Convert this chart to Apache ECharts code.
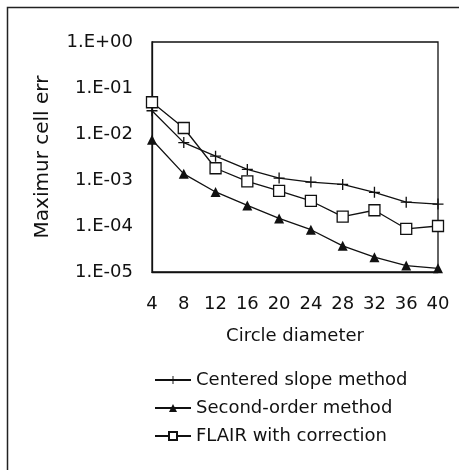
<!DOCTYPE html>
<html>
<head>
<meta charset="utf-8">
<script src="https://cdn.jsdelivr.net/npm/echarts@6/dist/echarts.min.js"></script>
<style>
  html, body { margin: 0; padding: 0; background: #fff; }
  #chart { width: 459px; height: 470px; }
</style>
</head>
<body>
<div id="chart"></div>
<script>
// circle diameters on the x axis
const diameters = ['4', '8', '12', '16', '20', '24', '28', '32', '36', '40']

// maximum cell error for each method
const centeredSlope = [0.032, 0.0065, 0.0033, 0.0017, 0.0011, 0.0009, 0.0008, 0.00054, 0.00033, 0.0003]
const secondOrder = [0.0075, 0.00136, 0.00055, 0.00028, 0.000146, 0.000083, 0.000037, 0.000021, 0.0000138, 0.000012]
const flairCorrection = [0.049, 0.0135, 0.0018, 0.00093, 0.00058, 0.00035, 0.00016, 0.00022, 0.000087, 0.0001]

const seriesNames = ['Centered slope method', 'Second-order method', 'FLAIR with correction']

const FONT = 'DejaVu Sans'
const plusSymbol = 'path://M4.4,0H5.6V4.4H10V5.6H5.6V10H4.4V5.6H0V4.4H4.4Z'

const chart = echarts.init(document.getElementById('chart'))

const fmtExp = v => {
  const e = Math.round(Math.log10(v))
  const s = Math.abs(e) < 10 ? '0' + Math.abs(e) : '' + Math.abs(e)
  return '1.E' + (e < 0 ? '-' : '+') + s
}

const lineStyle = { color: '#111', width: 1.3 }

const option = {
  backgroundColor: '#fff',
  animation: false,
  textStyle: { fontFamily: FONT, color: '#111' },
  graphic: [
    {
      type: 'polyline',
      shape: { points: [[7.5, 470], [7.5, 7.5], [459, 7.5]] },
      style: { stroke: '#222', lineWidth: 1.5, fill: null }
    }
  ],
  grid: {
    left: 152,
    right: 21,
    top: 42,
    bottom: 198,
    show: true,
    borderColor: '#111',
    borderWidth: 1.3
  },
  legend: {
    orient: 'vertical',
    left: 149,
    top: 365,
    itemWidth: 36,
    itemHeight: 10,
    itemGap: 8,
    data: seriesNames,
    textStyle: { fontFamily: FONT, fontSize: 18, color: '#111', lineHeight: 20 }
  },
  xAxis: {
    type: 'category',
    data: diameters,
    boundaryGap: false,
    name: 'Circle diameter',
    nameLocation: 'middle',
    nameGap: 55,
    nameTextStyle: { fontFamily: FONT, fontSize: 18, color: '#111' },
    axisLine: { lineStyle: { color: '#111', width: 1.3 } },
    axisTick: { show: false },
    axisLabel: { fontFamily: FONT, fontSize: 18, color: '#111', margin: 23 },
    splitLine: { show: false }
  },
  yAxis: {
    type: 'log',
    logBase: 10,
    min: 0.00001,
    max: 1,
    name: 'Maximur cell err',
    nameLocation: 'middle',
    nameGap: 99,
    nameTextStyle: { fontFamily: FONT, fontSize: 20, color: '#111' },
    axisLine: { show: true, lineStyle: { color: '#111', width: 1.3 } },
    axisTick: { show: false },
    axisLabel: { fontFamily: FONT, fontSize: 18, color: '#111', margin: 19, formatter: fmtExp },
    splitLine: { show: false }
  },
  series: [
    {
      name: seriesNames[0],
      type: 'line',
      data: centeredSlope,
      symbol: plusSymbol,
      symbolSize: 11,
      lineStyle: lineStyle,
      itemStyle: { color: '#111' }
    },
    {
      name: seriesNames[1],
      type: 'line',
      data: secondOrder,
      symbol: 'triangle',
      symbolSize: 10,
      lineStyle: lineStyle,
      itemStyle: { color: '#111' }
    },
    {
      name: seriesNames[2],
      type: 'line',
      data: flairCorrection,
      symbol: 'rect',
      symbolSize: 11,
      lineStyle: lineStyle,
      itemStyle: { color: '#fff', borderColor: '#111', borderWidth: 1.3 }
    }
  ]
}

chart.setOption(option)
</script>
</body>
</html>
